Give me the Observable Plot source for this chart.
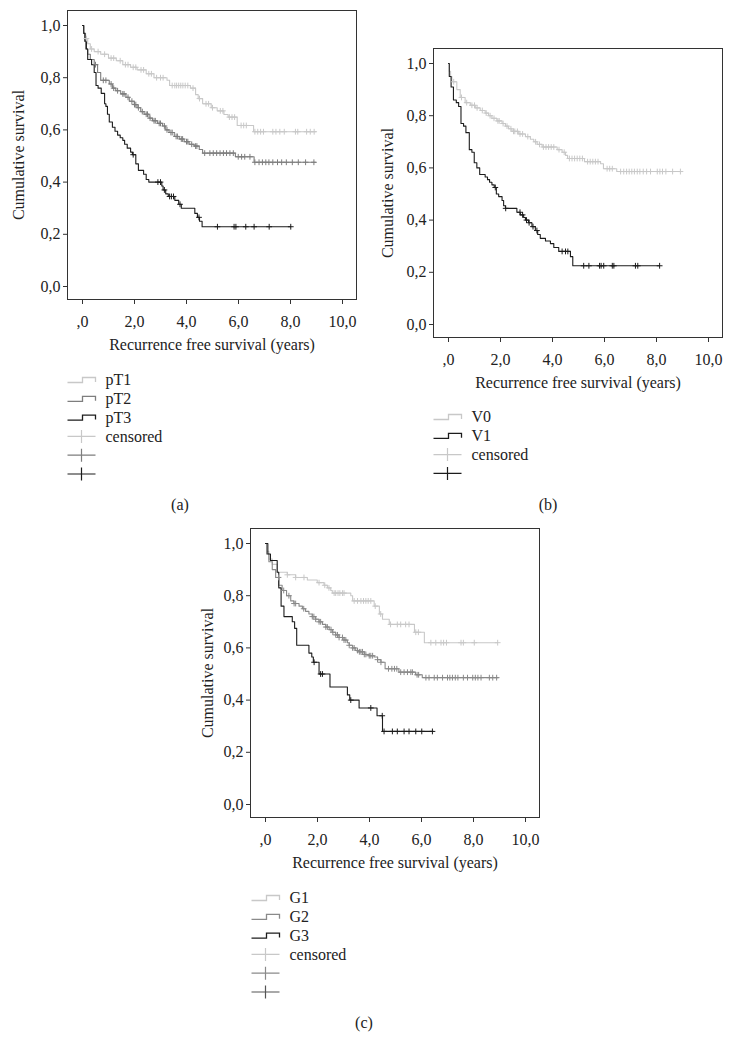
<!DOCTYPE html>
<html><head><meta charset="utf-8">
<script src="https://cdn.jsdelivr.net/npm/d3@7"></script>
<script src="https://cdn.jsdelivr.net/npm/@observablehq/plot@0.6"></script>
<style>
body{margin:0;background:#fff;}
#root{position:relative;width:733px;height:1056px;font-family:"Liberation Serif",serif;color:#222;overflow:hidden;}
.abs{position:absolute;}
.cap{position:absolute;font-size:16px;transform:translate(-50%,-50%);}
</style></head><body><div id="root"></div>
<script>
// ---- axis ticks ----
const xTicks = [0, 2, 4, 6, 8, 10];
const xTickLabels = [",0", "2,0", "4,0", "6,0", "8,0", "10,0"];
const yTicks = [0, 0.2, 0.4, 0.6, 0.8, 1.0];
const yTickLabels = ["0,0", "0,2", "0,4", "0,6", "0,8", "1,0"];
const xTitle = "Recurrence free survival (years)";
const yTitle = "Cumulative survival";
const censoredLabel = "censored";

// ---- panel (a): pT ----
const pT1_t = [0, 0.05, 0.12, 0.2, 0.3, 0.45, 0.7, 1.0, 1.3, 1.55, 1.85, 2.1, 2.45, 2.75, 3.25, 3.35, 4.15, 4.35, 4.45, 4.62, 4.95, 5.18, 5.44, 5.6, 5.95, 6.58, 8.97];
const pT1_s = [1.0, 0.97, 0.95, 0.93, 0.91, 0.90, 0.89, 0.875, 0.865, 0.85, 0.84, 0.83, 0.815, 0.80, 0.79, 0.77, 0.76, 0.735, 0.72, 0.70, 0.685, 0.673, 0.659, 0.649, 0.617, 0.593, 0.593];
const pT1_c = [0.15, 0.35, 0.6, 0.85, 1.1, 1.2, 1.45, 1.65, 1.75, 1.95, 2.05, 2.25, 2.35, 2.55, 2.65, 2.85, 3.0, 3.1, 3.45, 3.55, 3.62, 3.7, 3.78, 3.86, 3.95, 4.05, 4.25, 4.5, 4.75, 4.85, 5.0, 5.3, 5.4, 5.65, 5.75, 5.85, 6.1, 6.2, 6.3, 6.63, 6.74, 6.85, 6.96, 7.32, 7.44, 7.59, 7.76, 8.19, 8.28, 8.62, 8.76, 8.91];

const pT2_t = [0, 0.04, 0.08, 0.12, 0.2, 0.3, 0.45, 0.58, 0.7, 1.03, 1.15, 1.28, 1.47, 1.67, 1.8, 1.99, 2.1, 2.24, 2.37, 2.56, 2.69, 2.88, 3.08, 3.2, 3.33, 3.53, 3.72, 3.91, 4.1, 4.29, 4.49, 4.62, 5.88, 6.6, 8.97];
const pT2_s = [1, 0.97, 0.94, 0.91, 0.89, 0.87, 0.85, 0.82, 0.79, 0.776, 0.76, 0.75, 0.738, 0.725, 0.71, 0.697, 0.685, 0.67, 0.66, 0.645, 0.635, 0.625, 0.615, 0.60, 0.59, 0.575, 0.565, 0.555, 0.545, 0.538, 0.525, 0.511, 0.497, 0.476, 0.476];
const pT2_c = [0.5, 0.8, 0.9, 1.1, 1.2, 1.35, 1.55, 1.6, 1.75, 1.9, 2.0, 2.05, 2.15, 2.3, 2.45, 2.5, 2.6, 2.75, 2.8, 2.95, 3.0, 3.15, 3.25, 3.4, 3.45, 3.6, 3.65, 3.8, 3.85, 4.0, 4.05, 4.2, 4.35, 4.4, 4.7, 4.9, 5.03, 5.16, 5.29, 5.42, 5.54, 5.67, 5.8, 5.99, 6.12, 6.24, 6.44, 6.63, 6.79, 6.92, 7.05, 7.17, 7.32, 7.5, 7.66, 7.84, 8.07, 8.3, 8.58, 8.9];

const pT3_t = [0, 0.05, 0.1, 0.15, 0.2, 0.35, 0.45, 0.52, 0.6, 0.72, 0.85, 0.9, 0.96, 1.03, 1.15, 1.25, 1.35, 1.45, 1.55, 1.62, 1.72, 1.85, 1.92, 2.05, 2.15, 2.35, 2.45, 2.55, 3.05, 3.1, 3.2, 3.3, 3.55, 3.7, 3.8, 4.32, 4.42, 4.5, 4.6, 8.01];
const pT3_s = [1, 0.97, 0.94, 0.91, 0.87, 0.85, 0.82, 0.77, 0.76, 0.74, 0.70, 0.69, 0.66, 0.63, 0.61, 0.595, 0.58, 0.57, 0.56, 0.545, 0.53, 0.515, 0.505, 0.47, 0.445, 0.43, 0.41, 0.40, 0.385, 0.37, 0.355, 0.345, 0.33, 0.315, 0.30, 0.28, 0.265, 0.25, 0.229, 0.229];
const pT3_c = [1.95, 2.9, 3.0, 3.15, 3.35, 3.42, 3.5, 3.75, 4.48, 5.19, 5.83, 5.9, 6.28, 6.6, 7.18, 8.01];

// ---- panel (b): V ----
const V0_t = [0, 0.03, 0.08, 0.13, 0.32, 0.45, 0.64, 0.84, 1.03, 1.22, 1.41, 1.54, 1.67, 1.86, 2.06, 2.19, 2.31, 2.44, 2.7, 2.96, 3.15, 3.28, 3.41, 3.6, 4.18, 4.37, 4.5, 4.58, 5.23, 5.85, 5.96, 6.47, 8.95];
const V0_s = [1, 0.97, 0.95, 0.93, 0.90, 0.87, 0.85, 0.84, 0.83, 0.82, 0.81, 0.80, 0.79, 0.78, 0.77, 0.76, 0.75, 0.74, 0.73, 0.72, 0.71, 0.70, 0.69, 0.68, 0.67, 0.66, 0.648, 0.636, 0.624, 0.616, 0.597, 0.586, 0.586];
const V0_c = [0.2, 0.5, 0.7, 0.9, 1.0, 1.1, 1.3, 1.45, 1.6, 1.75, 1.9, 1.95, 2.1, 2.25, 2.4, 2.5, 2.55, 2.65, 2.75, 2.85, 3.05, 3.35, 3.5, 3.65, 3.75, 3.85, 3.95, 4.05, 4.25, 4.45, 4.65, 4.75, 4.85, 4.95, 5.05, 5.15, 5.35, 5.45, 5.55, 5.65, 5.75, 6.1, 6.2, 6.3, 6.62, 6.74, 6.85, 6.95, 7.05, 7.15, 7.26, 7.36, 7.49, 7.62, 7.77, 8.03, 8.13, 8.23, 8.36, 8.62, 8.92];

const V1_t = [0, 0.03, 0.1, 0.19, 0.3, 0.39, 0.48, 0.58, 0.67, 0.8, 0.9, 0.99, 1.09, 1.2, 1.41, 1.5, 1.58, 1.67, 1.76, 1.84, 1.93, 2.06, 2.12, 2.19, 2.63, 2.76, 2.89, 2.96, 3.08, 3.21, 3.34, 3.43, 3.53, 3.73, 3.92, 4.05, 4.24, 4.69, 4.78, 8.12];
const V1_s = [1, 0.95, 0.91, 0.86, 0.85, 0.835, 0.77, 0.76, 0.735, 0.67, 0.66, 0.62, 0.60, 0.575, 0.565, 0.555, 0.545, 0.535, 0.525, 0.50, 0.49, 0.475, 0.455, 0.445, 0.43, 0.42, 0.41, 0.40, 0.39, 0.375, 0.36, 0.345, 0.33, 0.32, 0.31, 0.295, 0.28, 0.26, 0.225, 0.225];
const V1_c = [1.8, 2.2, 2.75, 2.85, 3.0, 3.1, 3.25, 3.4, 4.37, 4.5, 4.59, 5.2, 5.4, 5.81, 5.87, 5.97, 6.3, 6.36, 7.19, 7.28, 8.12];

// ---- panel (c): G ----
const G1_t = [0, 0.04, 0.13, 0.26, 0.45, 0.84, 1.16, 1.61, 1.99, 2.25, 2.38, 2.51, 2.57, 3.28, 3.35, 4.18, 4.38, 4.5, 4.76, 5.73, 6.11, 8.93];
const G1_s = [1, 0.97, 0.94, 0.92, 0.89, 0.88, 0.87, 0.86, 0.85, 0.84, 0.83, 0.82, 0.81, 0.80, 0.78, 0.76, 0.73, 0.71, 0.69, 0.66, 0.62, 0.62];
const G1_c = [0.84, 1.16, 1.48, 2.06, 2.28, 2.44, 2.64, 2.7, 2.79, 2.86, 2.96, 3.02, 3.41, 3.54, 3.67, 3.77, 3.86, 3.95, 4.05, 4.22, 4.43, 4.81, 5.07, 5.2, 5.39, 5.52, 5.78, 5.88, 6.36, 6.55, 6.75, 6.85, 6.96, 7.52, 7.61, 8.03, 8.93];

const G2_t = [0, 0.04, 0.13, 0.26, 0.39, 0.51, 0.64, 0.81, 0.97, 1.09, 1.29, 1.42, 1.54, 1.67, 1.8, 1.93, 2.06, 2.19, 2.32, 2.45, 2.57, 2.7, 2.83, 3.02, 3.15, 3.22, 3.35, 3.47, 3.6, 3.8, 3.99, 4.18, 4.31, 4.44, 4.6, 5.13, 5.77, 6.03, 8.95];
const G2_s = [1, 0.96, 0.93, 0.90, 0.87, 0.84, 0.82, 0.80, 0.78, 0.77, 0.76, 0.75, 0.74, 0.73, 0.72, 0.71, 0.70, 0.69, 0.68, 0.67, 0.66, 0.65, 0.64, 0.63, 0.62, 0.61, 0.60, 0.59, 0.585, 0.575, 0.57, 0.565, 0.555, 0.545, 0.52, 0.507, 0.497, 0.486, 0.486];
const G2_c = [0.5, 0.7, 0.9, 1.1, 1.16, 1.47, 1.8, 1.86, 1.93, 2.06, 2.12, 2.32, 2.38, 2.52, 2.59, 2.7, 2.77, 2.83, 2.96, 3.02, 3.09, 3.22, 3.35, 3.41, 3.54, 3.61, 3.67, 3.73, 3.8, 3.86, 3.99, 4.05, 4.12, 4.31, 4.44, 4.73, 4.86, 4.96, 5.05, 5.2, 5.33, 5.46, 5.59, 5.65, 5.83, 5.89, 6.17, 6.29, 6.49, 6.61, 6.81, 7.0, 7.09, 7.19, 7.3, 7.4, 7.61, 7.77, 7.97, 8.07, 8.17, 8.29, 8.61, 8.74, 8.89];

const G3_t = [0, 0.09, 0.19, 0.45, 0.51, 0.6, 0.71, 1.03, 1.12, 1.2, 1.67, 1.78, 1.84, 2.06, 2.48, 3.15, 3.24, 3.6, 4.29, 4.5, 6.45];
const G3_s = [1, 0.96, 0.935, 0.89, 0.83, 0.76, 0.72, 0.70, 0.675, 0.61, 0.58, 0.565, 0.545, 0.50, 0.45, 0.42, 0.40, 0.37, 0.34, 0.28, 0.28];
const G3_c = [1.87, 2.12, 2.19, 3.28, 4.05, 4.49, 4.56, 4.88, 5.07, 5.33, 5.52, 5.78, 6.01, 6.42];

// ---- styling ----
const cLight = "#c8c8c8", cMid = "#7e7e7e", cDark = "#1c1c1c";
const FONT = "'Liberation Serif', 'Times New Roman', serif";

const xLab = new Map(xTicks.map((d, i) => [d, xTickLabels[i]]));
const yLab = new Map(yTicks.map((d, i) => [d, yTickLabels[i]]));

function stepValue(ts, ss, t) {
  let v = ss[0];
  for (let i = 0; i < ts.length; i++) { if (ts[i] <= t) v = ss[i]; else break; }
  return v;
}
const plusSymbol = {
  draw(ctx, size) {
    const r = Math.sqrt(size / Math.PI);
    ctx.moveTo(0, -r); ctx.lineTo(0, r);
    ctx.moveTo(-r, 0); ctx.lineTo(r, 0);
  }
};

const W = 367, H = 354, ML = 67, MT = 10, MR = 11, MB = 55;
// px per year 26, px per unit survival 261; frame padding 15/14 and 15/13 px
const xDomain = [-15 / 26, 10 + 14 / 26];
const yDomain = [-13 / 261, 1 + 15 / 261];

function makePanel(series, yTitleDx) {
  const marks = [];
  for (const s of series) {
    const rows = s.t.map((t, i) => ({t, s: s.s[i]}));
    marks.push(Plot.line(rows, {x: "t", y: "s", curve: "step-after", stroke: s.color, strokeWidth: 1.1}));
  }
  for (const s of series) {
    const cens = s.c.map(t => ({t, s: stepValue(s.t, s.s, t)}));
    marks.push(Plot.dot(cens, {x: "t", y: "s", symbol: plusSymbol, r: 2.9, stroke: s.color, strokeWidth: 1, fill: "none"}));
  }
  marks.push(Plot.frame({stroke: "#333", strokeWidth: 1}));
  marks.push(Plot.axisX(xTicks, {tickFormat: d => xLab.get(d), tickSize: 5, tickPadding: 11, stroke: "#333", fill: "#222", fontSize: 16, label: null}));
  marks.push(Plot.axisY(yTicks, {tickFormat: d => yLab.get(d), tickSize: 4, tickPadding: 3, stroke: "#333", fill: "#222", fontSize: 16, label: null}));
  marks.push(Plot.text([xTitle], {text: d => d, frameAnchor: "bottom", lineAnchor: "middle", textAnchor: "middle", dy: 45, fontSize: 16, fill: "#222"}));
  marks.push(Plot.text([yTitle], {text: d => d, frameAnchor: "left", lineAnchor: "middle", textAnchor: "middle", dx: yTitleDx, rotate: -90, fontSize: 16, fill: "#222"}));
  return Plot.plot({
    width: W, height: H,
    marginLeft: ML, marginTop: MT, marginRight: MR, marginBottom: MB,
    x: {domain: xDomain, axis: null},
    y: {domain: yDomain, axis: null},
    style: {fontFamily: FONT, fontSize: "16px", background: "transparent", overflow: "visible", color: "#222"},
    marks
  });
}

function makeLegend(items) {
  const rowH = 18.8, w = 160, h = items.length * rowH + 4;
  const svg = d3.create("svg").attr("width", w).attr("height", h)
    .style("font-family", FONT).style("font-size", "16px").style("overflow", "visible");
  items.forEach((it, i) => {
    const cy = 10 + i * rowH;
    const g = svg.append("g").attr("transform", `translate(0.5,${cy})`);
    if (it.type === "step") {
      g.append("path").attr("d", "M0,2.5H15V-2.5H28V2").attr("fill", "none").attr("stroke", it.color).attr("stroke-width", 1.3);
    } else {
      g.append("path").attr("d", "M0,0H28M14,-6.5V6.5").attr("fill", "none").attr("stroke", it.color).attr("stroke-width", 1.2);
    }
    if (it.label) g.append("text").attr("x", 38).attr("dy", "0.32em").attr("fill", "#222").text(it.label);
  });
  return svg.node();
}

const root = document.getElementById("root");
function place(node, left, top) {
  node.style.position = "absolute"; node.style.left = left + "px"; node.style.top = top + "px";
  root.appendChild(node);
}
function caption(text, cx, cy) {
  const d = document.createElement("div"); d.className = "cap"; d.textContent = text;
  d.style.left = cx + "px"; d.style.top = cy + "px"; root.appendChild(d);
}

// panel (a)
place(makePanel([
  {t: pT1_t, s: pT1_s, c: pT1_c, color: cLight},
  {t: pT2_t, s: pT2_s, c: pT2_c, color: cMid},
  {t: pT3_t, s: pT3_s, c: pT3_c, color: cDark}
], -49), 0, 0);
place(makeLegend([
  {type: "step", color: cLight, label: "pT1"},
  {type: "step", color: cMid, label: "pT2"},
  {type: "step", color: cDark, label: "pT3"},
  {type: "plus", color: cLight, label: censoredLabel},
  {type: "plus", color: cMid, label: ""},
  {type: "plus", color: cDark, label: ""}
]), 67, 370);
caption("(a)", 180, 505);

// panel (b)
place(makePanel([
  {t: V0_t, s: V0_s, c: V0_c, color: cLight},
  {t: V1_t, s: V1_s, c: V1_c, color: cDark}
], -46), 366, 38);
place(makeLegend([
  {type: "step", color: cLight, label: "V0"},
  {type: "step", color: cDark, label: "V1"},
  {type: "plus", color: cLight, label: censoredLabel},
  {type: "plus", color: cDark, label: ""}
]), 433, 407);
caption("(b)", 548, 505);

// panel (c)
place(makePanel([
  {t: G1_t, s: G1_s, c: G1_c, color: cLight},
  {t: G2_t, s: G2_s, c: G2_c, color: "#8a8a8a"},
  {t: G3_t, s: G3_s, c: G3_c, color: cDark}
], -43), 183, 518);
place(makeLegend([
  {type: "step", color: cLight, label: "G1"},
  {type: "step", color: "#8a8a8a", label: "G2"},
  {type: "step", color: cDark, label: "G3"},
  {type: "plus", color: cLight, label: censoredLabel},
  {type: "plus", color: "#8a8a8a", label: ""},
  {type: "plus", color: "#555", label: ""}
]), 251, 888);
caption("(c)", 364, 1023);
</script></body></html>
